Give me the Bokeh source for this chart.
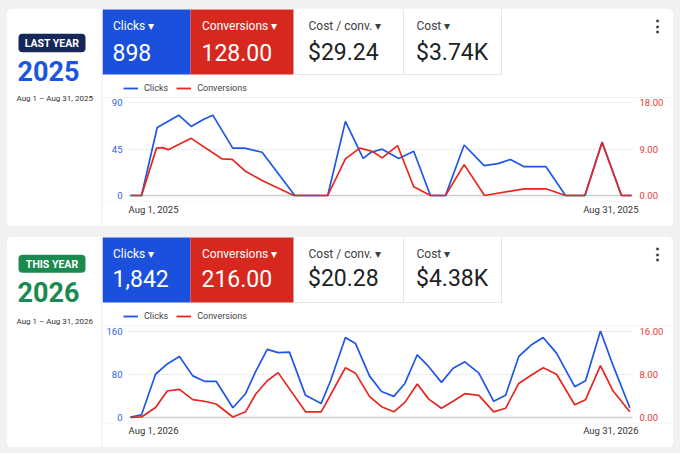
from bokeh.plotting import figure
from bokeh.layouts import column, row, Spacer
from bokeh.models import (Range1d, LinearAxis, FixedTicker, Label, BoxAnnotation, Span, Plot,
                          Legend, LegendItem, NumeralTickFormatter, GlobalInlineStyleSheet)
from bokeh.embed import file_html
from bokeh.resources import INLINE

FONT = "Roboto"
PAGE_BG = "#f1f1f1"
KPI_BLUE = "#1a50dc"
KPI_RED = "#d6281e"
LINE_BLUE = "#1f56e6"
LINE_RED = "#e8261f"

# ---- data: 2025 (last year) ----
days_2025_clicks = [1.0, 1.66, 2.6, 3.89, 4.63, 5.39, 5.93, 7.12, 7.84, 8.88,
                    10.84, 12.81, 13.87, 14.93, 15.41, 16.07, 17.06, 17.96, 18.96, 19.86,
                    20.98, 22.18, 23.0, 23.75, 24.57, 25.88, 27.05, 28.21, 29.24, 30.4, 31.0]
clicks_2025 = [0, 0, 66, 78, 67, 74, 78, 46, 46, 42,
               0, 0, 72, 36, 42, 45, 36, 43, 0, 0,
               49, 29, 31, 35, 28, 28, 0, 0, 52, 0, 0]
days_2025_conv = [1.0, 1.66, 2.56, 2.9, 3.26, 4.63, 6.49, 7.09, 7.89, 8.88,
                  10.78, 12.81, 13.87, 14.73, 15.47, 16.07, 16.99, 17.96, 18.96, 19.86,
                  20.98, 22.2, 24.57, 25.88, 27.05, 28.21, 29.24, 30.4, 31.0]
conv_2025 = [0, 0, 9.2, 9.3, 8.9, 11.1, 7.1, 7.0, 4.7, 2.9,
             0, 0, 7.1, 9.2, 8.6, 7.3, 9.7, 1.7, 0, 0,
             6.0, 0, 1.3, 1.3, 0, 0, 10.3, 0, 0]

# ---- data: 2026 (this year) ----
days_2026_clicks = [1.0, 1.66, 2.5, 3.2, 3.93, 4.73, 5.43, 6.13, 7.13, 7.89,
                    8.49, 9.19, 9.84, 10.52, 11.48, 12.42, 12.98, 13.87, 14.47, 15.31,
                    16.03, 16.77, 17.43, 18.17, 18.86, 19.62, 20.32, 21.02, 21.86, 22.75,
                    23.46, 24.25, 24.99, 25.71, 26.51, 27.6, 28.25, 29.14, 29.9, 30.9]
clicks_2026 = [1, 5, 80, 99, 113, 77, 67, 67, 18, 44,
               85, 126, 120, 121, 41, 26, 68, 148, 137, 77,
               48, 39, 63, 116, 94, 65, 91, 103, 82, 30,
               41, 113, 134, 148, 119, 57, 68, 160, 96, 18]
days_2026_conv = [1.0, 1.66, 2.5, 3.2, 3.93, 4.73, 5.43, 6.13, 7.13, 7.89,
                  8.49, 9.19, 9.84, 11.48, 12.42, 13.87, 14.47, 15.31, 16.03, 16.77,
                  17.43, 18.17, 18.86, 19.62, 20.32, 21.02, 21.86, 22.75, 23.46, 24.25,
                  24.99, 25.71, 26.51, 27.6, 28.25, 29.14, 29.9, 30.9]
conv_2026 = [0, 0.1, 1.85, 4.9, 5.2, 3.3, 3.0, 2.5, 0.1, 1.05,
             4.3, 6.8, 8.3, 1.05, 1.05, 9.2, 8.2, 3.9, 2.0, 1.05,
             2.8, 6.2, 3.4, 1.7, 3.0, 4.4, 4.1, 1.05, 1.7, 6.3,
             7.8, 9.2, 8.0, 2.35, 3.3, 9.6, 4.9, 1.05]

kpi_names = ["Clicks", "Conversions", "Cost / conv.", "Cost"]
kpi_2025 = ["898", "128.00", "$29.24", "$3.74K"]
kpi_2026 = ["1,842", "216.00", "$20.28", "$4.38K"]
clicks_ticks_2025 = [0, 45, 90]
conv_ticks_2025 = [0, 9, 18]
clicks_ticks_2026 = [0, 80, 160]
conv_ticks_2026 = [0, 8, 16]

# page-pixel geometry of each card (y downwards)
geom_2025 = dict(card=(8, 226), kpi=(9, 74), top_end=97, frame=(101, 197), chart_end=201,
                 zero=195, top=102.3, badge=(33.3, 51.7), year=70.5, date=98,
                 label=25.5, value=51.7, legend=88, xlab=209)
geom_2026 = dict(card=(236, 447), kpi=(237, 302), top_end=325, frame=(329, 419), chart_end=423,
                 zero=417, top=330.5, badge=(254.3, 272.3), year=291.5, date=321,
                 label=253.5, value=278.3, legend=316, xlab=430)

X0, XM, X1 = 6, 102, 673      # card left, panel split, card right
FL, FR = 129, 632             # chart frame left / right

# keep every plot's frame where it is put, not aligned with its neighbours
NO_ALIGN = {"frame_align": False} if "frame_align" in Plot.properties() else {}


def deco(x0, x1, y0, y1):
    f = figure(frame_width=round(x1 - x0), frame_height=round(y1 - y0),
               x_range=Range1d(x0, x1), y_range=Range1d(y1, y0),
               x_axis_location=None, y_axis_location=None,
               toolbar_location=None, output_backend="svg",
               min_border_left=0, min_border_right=0, min_border_top=0, min_border_bottom=0,
               **NO_ALIGN)
    f.grid.visible = False
    f.outline_line_color = None
    f.background_fill_color = PAGE_BG
    f.border_fill_color = PAGE_BG
    return f


def box(f, x0, x1, y0, y1, fill, radius=0):
    f.add_layout(BoxAnnotation(left=x0, right=x1, top=y0, bottom=y1,
                               fill_color=fill, fill_alpha=1.0, line_alpha=0.0,
                               border_radius=radius))


def text(f, x, y, s, size, color, align="left", style="normal"):
    f.add_layout(Label(x=x, y=y, text=s, text_font=FONT, text_font_size=size,
                       text_color=color, text_align=align, text_baseline="middle",
                       text_font_style=style))


def make_card(g, year, badge, badge_fill, accent, kpis,
              c_days, c_vals, v_days, v_vals, c_ticks, v_ticks):
    c0, c1 = g["card"]

    # left panel
    left = deco(X0, XM, c0, c1)
    box(left, X0, XM + 20, c0, c1, "white", radius=6)
    box(left, XM - 1, XM, c0 + 1, c1, "#ebebeb")
    b0, b1 = g["badge"]
    box(left, 18, 85, b0, b1, badge_fill, radius=4)
    text(left, 51.5, (b0 + b1) / 2 + 0.5, badge, "10.5px", "white", align="center", style="bold")
    text(left, 17, g["year"], str(year), "27px", accent, style="bold")
    text(left, 16, g["date"], "Aug 1 \u2013 Aug 31, %d" % year, "8px", "#333333")

    # KPI tiles + legend row
    top = deco(XM, X1, c0, g["top_end"])
    box(top, XM - 20, X1, c0, g["top_end"] + 20, "white", radius=6)
    k0, k1 = g["kpi"]
    box(top, 102, 190, k0, k1, KPI_BLUE)
    box(top, 190, 293, k0, k1, KPI_RED)
    box(top, 402.5, 403.5, k0, k1, "#e6e6e6")
    box(top, 500.5, 501.5, k0, k1, "#e6e6e6")
    box(top, 293, 501.5, k1 - 0.5, k1 + 0.5, "#e6e6e6")
    label_x = [112.5, 201.5, 308, 416]
    label_c = ["white", "white", "#3c4043", "#3c4043"]
    value_c = ["white", "white", "#202124", "#202124"]
    for i in range(4):
        text(top, label_x[i], g["label"], kpi_names[i] + "  \u25be", "12px", label_c[i])
        text(top, label_x[i] - 0.5, g["value"], kpis[i], "23px", value_c[i])
    text(top, 656.5, g["label"], "\u22ee", "17px", "#333333", align="center", style="bold")

    # legend keys: one-point lines (nothing drawn) carrying the series styles
    key_c = top.line(x=c_days[:1], y=c_vals[:1], line_color=LINE_BLUE, line_width=1.8)
    key_v = top.line(x=v_days[:1], y=v_vals[:1], line_color=LINE_RED, line_width=1.8)
    legend = Legend(items=[LegendItem(label="Clicks", renderers=[key_c]),
                           LegendItem(label="Conversions", renderers=[key_v])],
                    location=(123 - XM, g["top_end"] - (g["legend"] + 6)),
                    orientation="horizontal", glyph_width=15, glyph_height=12,
                    label_height=12, label_standoff=6, spacing=8, padding=0, margin=0,
                    label_text_font=FONT, label_text_font_size="9px",
                    label_text_color="#444444", border_line_color=None,
                    background_fill_alpha=0)
    top.add_layout(legend)

    # chart
    f0, f1 = g["frame"]
    ppd = (631 - 130) / 30
    x_range = Range1d(1 - (130 - FL) / ppd, 31 + (FR - 631) / ppd)
    ppu = (g["zero"] - g["top"]) / c_ticks[-1]
    y_range = Range1d(-(f1 - g["zero"]) / ppu, c_ticks[-1] + (g["top"] - f0) / ppu)
    ppv = (g["zero"] - g["top"]) / v_ticks[-1]
    v_range = Range1d(-(f1 - g["zero"]) / ppv, v_ticks[-1] + (g["top"] - f0) / ppv)

    p = figure(width=X1 - XM, height=g["chart_end"] - g["top_end"],
               output_backend="svg", toolbar_location=None,
               x_range=x_range, y_range=y_range, x_axis_location=None,
               min_border_left=FL - XM, min_border_right=X1 - FR,
               min_border_top=f0 - g["top_end"], min_border_bottom=g["chart_end"] - f1,
               **NO_ALIGN)
    p.border_fill_color = "white"
    p.background_fill_color = "white"
    p.outline_line_color = None
    p.xgrid.visible = False
    p.extra_y_ranges = {"conv": v_range}
    p.yaxis.ticker = FixedTicker(ticks=c_ticks)
    p.ygrid.grid_line_dash = "2 2"
    p.ygrid.grid_line_color = "#dcdcdc"
    p.add_layout(Span(location=0, dimension="width", line_color="#d0d0d0",
                      line_width=1.5, level="underlay"))
    right = LinearAxis(y_range_name="conv", ticker=FixedTicker(ticks=v_ticks),
                       formatter=NumeralTickFormatter(format="0.00"))
    p.add_layout(right, "right")
    for ax, col in ((p.yaxis[0], "#2d62e6"), (right, "#e53935")):
        ax.axis_line_color = None
        ax.major_tick_line_color = None
        ax.minor_tick_line_color = None
        ax.major_tick_out = 0
        ax.major_label_standoff = 7
        ax.major_label_text_font = FONT
        ax.major_label_text_font_size = "9.5px"
        ax.major_label_text_color = col

    p.line(c_days, c_vals, line_color=LINE_BLUE, line_width=1.7)
    p.line(v_days, v_vals, y_range_name="conv", line_color=LINE_RED, line_width=1.7)

    # date labels under the chart
    bottom = deco(XM, X1, g["chart_end"], c1)
    box(bottom, XM - 20, X1, g["chart_end"] - 20, c1, "white", radius=6)
    text(bottom, 128, g["xlab"], "Aug 1, %d" % year, "9.5px", "#333333")
    text(bottom, 638, g["xlab"], "Aug 31, %d" % year, "9.5px", "#333333", align="right")

    return row(left, column(top, p, bottom, spacing=0), spacing=0)


card1 = make_card(geom_2025, 2025, "LAST YEAR", "#16285a", "#1a56e0", kpi_2025,
                  days_2025_clicks, clicks_2025, days_2025_conv, conv_2025,
                  clicks_ticks_2025, conv_ticks_2025)
card2 = make_card(geom_2026, 2026, "THIS YEAR", "#1b8a50", "#1b8a50", kpi_2026,
                  days_2026_clicks, clicks_2026, days_2026_conv, conv_2026,
                  clicks_ticks_2026, conv_ticks_2026)

gap = geom_2026["card"][0] - geom_2025["card"][1]
page = column(Spacer(height=geom_2025["card"][0]),
              row(Spacer(width=X0), column(card1, Spacer(height=gap), card2, spacing=0), spacing=0),
              spacing=0)
page.stylesheets = [GlobalInlineStyleSheet(css="body { background-color: %s; }" % PAGE_BG)]

open("out.html", "w").write(file_html(page, INLINE))
